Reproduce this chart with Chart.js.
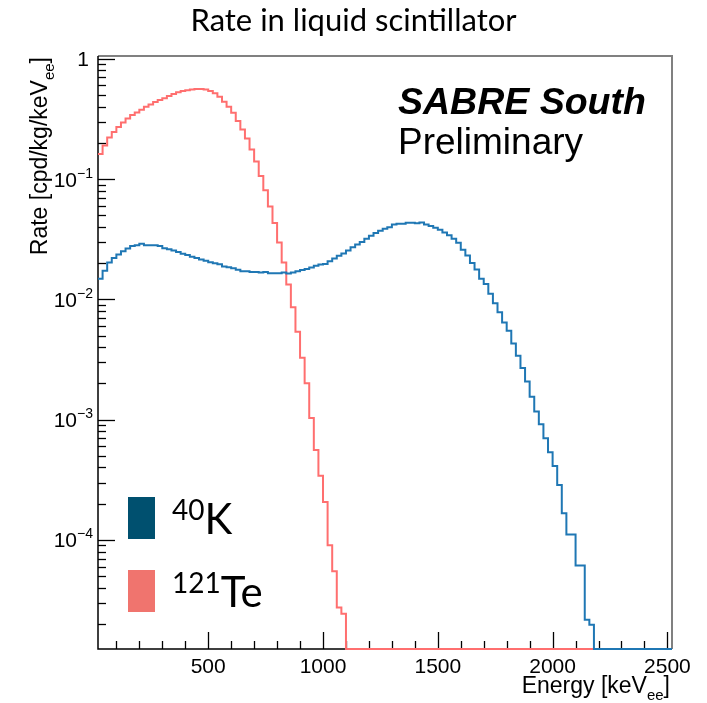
<!DOCTYPE html>
<html><head><meta charset="utf-8">
<script src="https://cdn.jsdelivr.net/npm/chart.js@4/dist/chart.umd.min.js"></script>
<style>html,body{margin:0;padding:0;background:#fff;}#wrap{width:707px;height:703px;}</style>
</head><body><div id="wrap"><canvas id="c" width="707" height="703"></canvas></div>
<script>
// ---- histogram binning (keV_ee) ----
const binLow = 20;
const binWidth = 20;
const nBins = 125;
// ---- 40K rate per bin (cpd/kg/keV_ee), bins from 20 keV; later bins are empty ----
const k40Rate = [
 0.0148,0.0173,0.0202,0.0221,0.0236,0.0251,0.0265,0.0277,0.0282,0.0289,
 0.0282,0.0282,0.0282,0.0277,0.0266,0.0261,0.0255,0.0247,0.0239,0.0233,
 0.0226,0.0220,0.0214,0.0209,0.0203,0.0199,0.0196,0.0187,0.0185,0.0181,
 0.0176,0.0171,0.0171,0.0169,0.0169,0.0167,0.0169,0.0165,0.0165,0.0165,
 0.0167,0.0164,0.0167,0.0171,0.0175,0.0179,0.0184,0.0190,0.0195,0.0197,
 0.0207,0.0218,0.0230,0.0240,0.0255,0.0271,0.0286,0.0299,0.0319,0.0338,
 0.0355,0.0372,0.0386,0.0398,0.0419,0.0425,0.0425,0.0433,0.0433,0.0428,
 0.0436,0.0419,0.0406,0.0394,0.0379,0.0360,0.0340,0.0319,0.0295,0.0258,
 0.0231,0.0200,0.0177,0.0148,0.0134,0.0111,0.00927,0.0078,0.00643,0.00548,
 0.0043,0.0034,0.00268,0.00207,0.00155,0.00117,0.000916,0.000700,0.000535,0.000411,
 0.000286,0.000167,0.000111,0.000111,0.0000612,0.0000612,0.0000217,0.0000197
];
// ---- 121Te rate per bin ----
const te121Rate = [
 0.161,0.190,0.221,0.246,0.270,0.295,0.319,0.340,0.357,0.376,
 0.398,0.417,0.436,0.453,0.470,0.489,0.508,0.525,0.538,0.548,
 0.555,0.559,0.559,0.555,0.538,0.515,0.482,0.438,0.398,0.355,
 0.304,0.258,0.217,0.176,0.140,0.106,0.0805,0.0592,0.0430,0.0297,
 0.0202,0.0133,0.00858,0.00538,0.00327,0.00201,0.00103,0.000559,0.000341,0.000207,
 0.0000903,0.0000549,0.0000275,0.0000244
];
// ---- axes ----
const xMin = 20, xMax = 2520;
const yMin = 1.24e-5, yMax = 1.053;
const xTickLabels = [500, 1000, 1500, 2000, 2500];
const xMinorStep = 100;
const yTickExponents = [0, -1, -2, -3, -4];
const legendMass = ['40', '121'];
const legendSymbol = ['K', 'Te'];

function histPoints(vals) {
  const pts = [];
  for (let i = 0; i <= nBins; i++) {
    const v = i < vals.length ? vals[i] : 0;   // empty bins
    pts.push({ x: binLow + i * binWidth, y: v > 0 ? v : yMin }); // empty bins drawn on the frame floor
  }
  return pts;
}

function richWidth(ctx, parts) { let w = 0; for (const p of parts) { ctx.font = p.f; w += ctx.measureText(p.t).width; } return w; }
function drawRich(ctx, parts, x, y, align) {
  const w = richWidth(ctx, parts);
  let cx = align === 'right' ? x - w : align === 'center' ? x - w / 2 : x;
  for (const p of parts) { ctx.font = p.f; ctx.fillText(p.t, cx, y + (p.dy || 0)); cx += ctx.measureText(p.t).width; }
}

const rootStyle = {
  id: 'rootStyle',
  beforeDatasetsDraw(chart) {
    const { ctx, chartArea: a, scales: { x, y } } = chart;
    ctx.save();
    ctx.lineCap = 'butt';
    ctx.strokeStyle = '#808080'; ctx.lineWidth = 2;
    ctx.beginPath(); ctx.moveTo(a.left, a.top); ctx.lineTo(a.right, a.top); ctx.lineTo(a.right, a.bottom); ctx.stroke();
    ctx.strokeStyle = '#000'; ctx.lineWidth = 1.5;
    ctx.beginPath(); ctx.moveTo(a.left, a.top); ctx.lineTo(a.left, a.bottom); ctx.lineTo(a.right, a.bottom); ctx.stroke();
    // y ticks
    ctx.lineWidth = 1.3;
    for (let d = -6; d <= 0; d++) {
      for (let m = 1; m <= 9; m++) {
        const v = m * Math.pow(10, d);
        if (v < y.min || v > y.max) continue;
        const py = Math.round(y.getPixelForValue(v)) + 0.5;
        const len = m === 1 ? 17 : 8;
        ctx.beginPath(); ctx.moveTo(a.left, py); ctx.lineTo(a.left + len, py); ctx.stroke();
      }
    }
    // x ticks
    for (let e = xMinorStep; e <= xMax; e += xMinorStep) {
      if (e < x.min) continue;
      const px = Math.round(x.getPixelForValue(e)) + 0.5;
      const len = xTickLabels.includes(e) ? 17 : 8;
      ctx.beginPath(); ctx.moveTo(px, a.bottom); ctx.lineTo(px, a.bottom - len); ctx.stroke();
    }
    ctx.restore();
  },
  afterDraw(chart) {
    const { ctx, chartArea: a, scales: { x, y } } = chart;
    ctx.save();
    ctx.fillStyle = '#000';
    ctx.textBaseline = 'alphabetic';
    ctx.textAlign = 'left';
    const tf = '21px "Liberation Sans", Arial, sans-serif';
    const sf = '14px "Liberation Sans", Arial, sans-serif';
    const af = '23px "Liberation Sans", Arial, sans-serif';
    const asf = '15px "Liberation Sans", Arial, sans-serif';
    // y tick labels
    for (const ex of yTickExponents) {
      const py = y.getPixelForValue(Math.pow(10, ex));
      if (ex === 0) drawRich(ctx, [{ t: '1', f: tf }], a.left - 9, py + 7.5, 'right');
      else drawRich(ctx, [{ t: '10', f: tf }, { t: '\u2212' + (-ex), f: sf, dy: -9 }], a.left - 5, py + 7.5, 'right');
    }
    // x tick labels
    for (const v of xTickLabels) {
      drawRich(ctx, [{ t: String(v), f: tf }], x.getPixelForValue(v), 673, 'center');
    }
    // x title
    drawRich(ctx, [{ t: 'Energy [keV', f: af }, { t: 'ee', f: asf, dy: 7 }, { t: ']', f: af }], a.right - 2, 693, 'right');
    // y title
    ctx.save();
    ctx.translate(47, a.top + 1);
    ctx.rotate(-Math.PI / 2);
    drawRich(ctx, [{ t: 'Rate [cpd/kg/keV', f: af }, { t: 'ee', f: asf, dy: 7 }, { t: ']', f: af }], 0, 0, 'right');
    ctx.restore();
    // title
    drawRich(ctx, [{ t: 'Rate in liquid scintillator', f: '31px Lato, sans-serif' }], 353.5, 31, 'center');
    // SABRE South Preliminary
    drawRich(ctx, [{ t: 'SABRE South', f: 'italic bold 37.5px "Liberation Sans", Arial, sans-serif' }], 398, 114, 'left');
    drawRich(ctx, [{ t: 'Preliminary', f: '37px "Liberation Sans", Arial, sans-serif' }], 398, 154, 'left');
    // legend
    const ds = chart.data.datasets;
    const boxY = [497, 570];
    for (let i = 0; i < ds.length; i++) {
      ctx.fillStyle = ds[i].legendColor;
      ctx.fillRect(128, boxY[i], 27, 42);
      ctx.fillStyle = '#000';
      drawRich(ctx, [{ t: legendMass[i], f: '28px Lato, sans-serif', dy: -14 }, { t: legendSymbol[i], f: '42px Lato, sans-serif' }], 172, boxY[i] + 37, 'left');
    }
    ctx.restore();
  }
};

new Chart(document.getElementById('c'), {
  type: 'line',
  data: {
    datasets: [
      { label: '40K', data: histPoints(k40Rate), borderColor: '#1f77b4', legendColor: '#00506f', borderWidth: 2, stepped: 'before', pointRadius: 0, fill: false, clip: false },
      { label: '121Te', data: histPoints(te121Rate), borderColor: '#ff6f6f', legendColor: '#f0746e', borderWidth: 2, stepped: 'before', pointRadius: 0, fill: false, clip: false }
    ]
  },
  options: {
    responsive: false, animation: false, devicePixelRatio: 1,
    layout: { padding: { left: 98, top: 56, right: 35, bottom: 54 } },
    plugins: { legend: { display: false }, title: { display: false }, tooltip: { enabled: false } },
    scales: {
      x: { type: 'linear', min: xMin, max: xMax, bounds: 'data', display: false },
      y: { type: 'logarithmic', min: yMin, max: yMax, bounds: 'data', display: false }
    }
  },
  plugins: [rootStyle]
});
</script></body></html>
